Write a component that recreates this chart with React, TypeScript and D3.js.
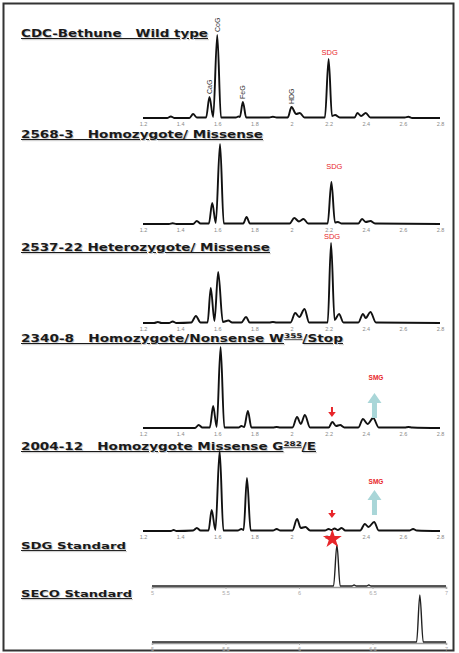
import React, { useEffect, useRef } from 'react';
import * as d3 from 'd3';

type Pt = [number, number];

// retention time (min) vs. detector response
const wildType: Pt[] = [
  [1.2, 0], [1.33, 0], [1.35, 1.5], [1.37, 0],
  [1.45, 0], [1.47, 4], [1.49, 0.5],
  [1.54, 0.5], [1.558, 21], [1.578, 1], [1.6, 83], [1.62, 0.5],
  [1.7, 0.5], [1.715, 1.5], [1.722, 1], [1.738, 16], [1.756, 0.5],
  [1.88, 0.5], [1.9, 1.2], [1.92, 0.5],
  [1.98, 0.5], [2.0, 11], [2.025, 4], [2.045, 5], [2.07, 0.5],
  [2.18, 0.5], [2.2, 59], [2.218, 2], [2.235, 3], [2.26, 0.5],
  [2.34, 0.5], [2.355, 5], [2.375, 2], [2.4, 5], [2.425, 0.5],
  [2.61, 0.5], [2.63, 1.2], [2.65, 0], [2.8, 0],
];

const homoMissense: Pt[] = [
  [1.2, 0], [1.34, 0], [1.36, 0.8], [1.38, 0],
  [1.47, 0], [1.49, 3], [1.51, 0.5],
  [1.555, 0.5], [1.573, 21], [1.592, 1], [1.615, 80], [1.635, 0.5],
  [1.74, 0.5], [1.758, 7], [1.776, 0.5],
  [1.99, 0.5], [2.015, 6], [2.04, 2.5], [2.065, 5], [2.09, 0.5],
  [2.195, 0.5], [2.215, 42], [2.234, 1.5], [2.25, 2], [2.27, 0.5],
  [2.36, 0.5], [2.38, 5], [2.4, 2], [2.425, 3], [2.45, 0.5],
  [2.8, 0],
];

const heteroMissense: Pt[] = [
  [1.2, 0], [1.26, 0], [1.28, 1], [1.3, 0], [1.34, 0], [1.36, 1.5], [1.38, 0],
  [1.46, 0.5], [1.485, 7], [1.51, 0.5],
  [1.548, 0.5], [1.565, 35], [1.585, 2], [1.605, 51], [1.63, 1], [1.66, 2.5], [1.68, 0.5],
  [1.73, 0.5], [1.755, 6], [1.775, 0.5],
  [1.88, 0.5], [1.9, 1], [1.92, 0.5],
  [1.995, 0.5], [2.02, 10], [2.042, 6], [2.07, 14], [2.095, 0.5],
  [2.195, 0.5], [2.213, 80], [2.232, 3], [2.256, 9], [2.28, 0.5],
  [2.36, 0.5], [2.385, 9], [2.4, 5], [2.425, 11], [2.455, 0.5],
  [2.8, 0],
];

const homoNonsense: Pt[] = [
  [1.2, 0], [1.48, 0], [1.5, 3], [1.52, 0.5],
  [1.56, 0.5], [1.578, 22], [1.597, 1], [1.618, 81], [1.638, 0.5],
  [1.715, 0.5], [1.73, 2], [1.745, 1], [1.765, 17], [1.784, 0.5],
  [1.9, 0.5], [1.92, 1], [1.94, 0.5],
  [2.005, 0.5], [2.03, 11], [2.05, 4], [2.072, 13], [2.1, 0.5],
  [2.2, 0.5], [2.22, 6], [2.24, 2], [2.262, 3], [2.285, 0.5],
  [2.36, 0.5], [2.385, 9], [2.41, 4], [2.44, 10], [2.47, 0.5],
  [2.61, 0.5], [2.63, 1], [2.65, 0.5], [2.8, 0],
];

const homoMissenseG: Pt[] = [
  [1.2, 0], [1.35, 0], [1.365, 1], [1.38, 0],
  [1.47, 0.5], [1.49, 3], [1.51, 0.5],
  [1.553, 0.5], [1.57, 21], [1.59, 1], [1.613, 80], [1.633, 0.5],
  [1.71, 0.5], [1.73, 2], [1.742, 1], [1.76, 53], [1.78, 0.5],
  [1.9, 0.5], [1.92, 2], [1.94, 0.5],
  [2.005, 0.5], [2.03, 12], [2.05, 3], [2.075, 4], [2.1, 0.5],
  [2.18, 0.5], [2.2, 2], [2.215, 1], [2.232, 2.5], [2.25, 1], [2.27, 3], [2.29, 0.5],
  [2.37, 0.5], [2.395, 7], [2.415, 4], [2.445, 9], [2.47, 0.5],
  [2.635, 0.5], [2.655, 2], [2.675, 0.5], [2.8, 0],
];

const sdgStandard: Pt[] = [
  [5, 0], [6.235, 0], [6.258, 41], [6.28, 0],
  [6.36, 0], [6.375, 1], [6.39, 0], [6.46, 0], [6.475, 1], [6.49, 0], [7, 0],
];

const secoStandard: Pt[] = [
  [5, 0], [6.8, 0], [6.822, 47], [6.845, 0], [7, 0],
];

const mainTicks = [1.2, 1.4, 1.6, 1.8, 2, 2.2, 2.4, 2.6, 2.8];
const stdTicks = [5, 5.5, 6, 6.5, 7];

// title pieces: [text, superscript?]
const titles: [string, boolean][][] = [
  [['CDC-Bethune   Wild type', false]],
  [['2568-3   Homozygote/ Missense', false]],
  [['2537-22 Heterozygote/ Missense', false]],
  [['2340-8   Homozygote/Nonsense W', false], ['355', true], ['/Stop', false]],
  [['2004-12   Homozygote Missense G', false], ['282', true], ['/E', false]],
  [['SDG Standard', false]],
  [['SECO Standard', false]],
];

const peakLabels: [string, number][] = [['CaG', 1.558], ['CoG', 1.6], ['FeG', 1.738], ['HDG', 2.0]];

const panels = [
  { data: wildType, base: 118, ticks: mainTicks, x0: 143, x1: 440, titleY: 37, titleW: 187 },
  { data: homoMissense, base: 224, ticks: mainTicks, x0: 143, x1: 440, titleY: 138, titleW: 242 },
  { data: heteroMissense, base: 323, ticks: mainTicks, x0: 143, x1: 440, titleY: 251, titleW: 249 },
  { data: homoNonsense, base: 428, ticks: mainTicks, x0: 143, x1: 440, titleY: 342, titleW: 322 },
  { data: homoMissenseG, base: 531, ticks: mainTicks, x0: 143, x1: 440, titleY: 450, titleW: 295 },
  { data: sdgStandard, base: 586, ticks: stdTicks, x0: 152, x1: 446, titleY: 549, titleW: 105 },
  { data: secoStandard, base: 642, ticks: stdTicks, x0: 152, x1: 446, titleY: 597, titleW: 111 },
];

export default function App() {
  const ref = useRef<SVGSVGElement>(null);

  useEffect(() => {
    const svg = d3.select(ref.current);
    svg.selectAll('*').remove();

    svg.append('rect')
      .attr('x', 3.5).attr('y', 3.5).attr('width', 450).attr('height', 647)
      .attr('fill', 'white').attr('stroke', '#333').attr('stroke-width', 2);

    const scales = panels.map((p, i) => {
      const domain = i < 5 ? [1.2, 2.8] : [5, 7];
      const x = d3.scaleLinear().domain(domain).range([p.x0, p.x1]);
      const y = d3.scaleLinear().domain([0, 100]).range([p.base, p.base - 100]);
      return { x, y };
    });

    panels.forEach((p, i) => {
      const { x, y } = scales[i];
      const std = i >= 5;

      // title with soft shadow
      [true, false].forEach(shadow => {
        const t = svg.append('text')
          .attr('x', 21 + (shadow ? 1 : 0))
          .attr('y', p.titleY + (shadow ? 1.2 : 0))
          .attr('textLength', p.titleW)
          .attr('lengthAdjust', 'spacingAndGlyphs')
          .attr('font-family', 'DejaVu Sans, Verdana, sans-serif')
          .attr('font-weight', 'bold')
          .attr('font-size', std ? 9.5 : 10)
          .attr('fill', shadow ? '#c8c8c8' : '#1a1a1a')
          .attr('text-decoration', 'underline')
          .style('white-space', 'pre');
        titles[i].forEach(([s, sup]) => {
          const ts = t.append('tspan').text(s);
          if (sup) ts.attr('font-size', 6.5).attr('dy', -4);
          else if (s.startsWith('/')) ts.attr('dy', 4);
        });
      });

      // axis labels
      const axis = d3.axisBottom(x)
        .tickValues(p.ticks)
        .tickFormat(d => d3.format('~g')(d as number))
        .tickSize(std ? 2 : 0)
        .tickPadding(std ? 2 : 4);
      const g = svg.append('g')
        .attr('transform', `translate(0,${p.base + (std ? 1 : 0)})`)
        .call(axis);
      g.select('.domain').attr('stroke', std ? '#999' : 'none').attr('stroke-width', 1.5);
      g.selectAll('.tick line').attr('stroke', '#aaa');
      g.selectAll('.tick text')
        .attr('font-size', 5.5)
        .attr('font-family', 'Liberation Sans, Arial, sans-serif')
        .attr('fill', std ? '#aaa' : '#888');

      // trace
      svg.append('path')
        .datum(p.data)
        .attr('fill', 'none')
        .attr('stroke', std ? '#222' : '#111')
        .attr('stroke-width', std ? 1.4 : 1.9)
        .attr('stroke-linejoin', 'round')
        .attr('d', d3.line<Pt>()
          .x(d => x(d[0]))
          .y(d => y(d[1]))
          .curve(d3.curveMonotoneX));
    });

    const red = '#e8262a';
    const cyan = '#a9d6d8';

    // peak names on the wild type trace
    const s0 = scales[0];
    peakLabels.forEach(([name, rt]) => {
      const pt = wildType.find(d => d[0] === rt) as Pt;
      svg.append('text')
        .attr('transform', `translate(${s0.x(rt) + 2.5},${s0.y(pt[1]) - 3}) rotate(-90)`)
        .attr('font-family', 'Liberation Sans, Arial, sans-serif')
        .attr('font-size', 7)
        .attr('fill', '#333')
        .text(name);
    });

    // SDG labels
    [[0, 2.2, 63], [1, 2.225, 55], [2, 2.213, 84]].forEach(([i, rt, h]) => {
      const s = scales[i];
      svg.append('text')
        .attr('x', s.x(rt) + 1).attr('y', s.y(h))
        .attr('text-anchor', 'middle')
        .attr('font-family', 'Liberation Sans, Arial, sans-serif')
        .attr('font-size', 7.5)
        .attr('fill', red)
        .text('SDG');
    });

    // arrows on the two mutant traces: [panel, red top, red tip, cyan tip, cyan bottom, SMG label]
    [[3, 21, 11, 35, 10, 48], [4, 21, 13, 41, 16, 47]].forEach(([i, rTop, rTip, cTip, cBot, sY]) => {
      const s = scales[i];
      const rx = s.x(2.218);
      const ry0 = s.y(rTop), ry1 = s.y(rTip);
      svg.append('line')
        .attr('x1', rx).attr('x2', rx).attr('y1', ry0).attr('y2', ry1 - 3)
        .attr('stroke', red).attr('stroke-width', 2);
      svg.append('path')
        .attr('d', `M${rx - 3.8},${ry1 - 5}L${rx + 3.8},${ry1 - 5}L${rx},${ry1}Z`)
        .attr('fill', red);

      const cx = s.x(2.447);
      const tip = s.y(cTip);
      const bot = s.y(cBot);
      svg.append('path')
        .attr('d', `M${cx - 2.5},${bot}L${cx - 2.5},${tip + 10}L${cx - 7},${tip + 10}L${cx},${tip}L${cx + 7},${tip + 10}L${cx + 2.5},${tip + 10}L${cx + 2.5},${bot}Z`)
        .attr('fill', cyan);

      svg.append('text')
        .attr('x', s.x(2.455)).attr('y', s.y(sY))
        .attr('text-anchor', 'middle')
        .attr('font-family', 'Liberation Sans, Arial, sans-serif')
        .attr('font-weight', 'bold')
        .attr('font-size', 6.5)
        .attr('fill', red)
        .text('SMG');
    });

    // star marking SDG position
    svg.append('path')
      .attr('d', d3.symbol().type(d3.symbolStar).size(110)())
      .attr('transform', `translate(${scales[4].x(2.22)},539)`)
      .attr('fill', red);
  }, []);

  return (
    <svg ref={ref} width={459} height={653}
      style={{ position: 'absolute', left: 0, top: 0, background: 'white' }} />
  );
}
